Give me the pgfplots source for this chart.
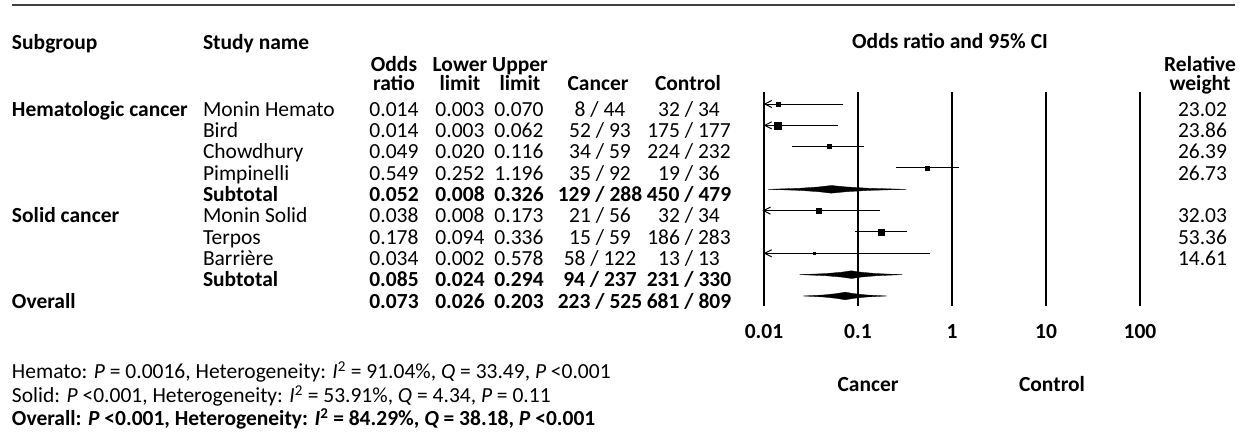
\documentclass[border=0pt]{standalone}
\usepackage{fontspec}
\setmainfont{Carlito}
\usepackage{pgfplots}
\pgfplotsset{compat=1.18}
\usetikzlibrary{arrows.meta}
% table row: font, row, name, OR, lower, upper, cancer, control, weight
\newcommand\trow[9]{%
  \pgfmathsetmacro\yb{109.5+(#2-1)*21.33+6.8}%
  \node[anchor=base west,font=#1] at (203,\yb) {#3};
  \node[anchor=base,font=#1] at (394,\yb) {#4};
  \node[anchor=base,font=#1] at (460,\yb) {#5};
  \node[anchor=base,font=#1] at (519,\yb) {#6};
  \node[anchor=base,font=#1] at (600,\yb) {#7};
  \node[anchor=base,font=#1] at (689,\yb) {#8};
  \node[anchor=base east,font=#1] at (1227,\yb) {#9};
}
\begin{document}
\fontsize{21.5}{24}\selectfont
\begin{tikzpicture}
\path[use as bounding box] (0pt,0pt) rectangle (1247pt,-439pt);
\begin{scope}[x=1pt,y=-1pt,every node/.style={inner sep=0pt,outer sep=0pt}]
  \draw[line width=1.8pt, black!75] (12,5) -- (1235,5);
  % headers
  \node[anchor=base west,font=\bfseries] at (12,49.8) {Subgroup};
  \node[anchor=base west,font=\bfseries] at (203,49.8) {Study name};
  \node[anchor=base,font=\bfseries] at (950,48.8) {Odds ratio and 95\% CI};
  \node[anchor=base,font=\bfseries] at (394,71) {Odds};
  \node[anchor=base,font=\bfseries] at (394,90) {ratio};
  \node[anchor=base,font=\bfseries] at (460,71) {Lower};
  \node[anchor=base,font=\bfseries] at (460,90) {limit};
  \node[anchor=base,font=\bfseries] at (520,71) {Upper};
  \node[anchor=base,font=\bfseries] at (520,90) {limit};
  \node[anchor=base,font=\bfseries] at (598,90) {Cancer};
  \node[anchor=base,font=\bfseries] at (688,90) {Control};
  \node[anchor=base,font=\bfseries] at (1200,71) {Relative};
  \node[anchor=base,font=\bfseries] at (1200,90) {weight};
  % subgroups
  \node[anchor=base west,font=\bfseries] at (12,116.3) {Hematologic cancer};
  \node[anchor=base west,font=\bfseries] at (12,222.9) {Solid cancer};
  \node[anchor=base west,font=\bfseries] at (12,308.3) {Overall};
  % rows
  \trow{}{1}{Monin Hemato}{0.014}{0.003}{0.070}{8 / 44}{32 / 34}{23.02}
  \trow{}{2}{Bird}{0.014}{0.003}{0.062}{52 / 93}{175 / 177}{23.86}
  \trow{}{3}{Chowdhury}{0.049}{0.020}{0.116}{34 / 59}{224 / 232}{26.39}
  \trow{}{4}{Pimpinelli}{0.549}{0.252}{1.196}{35 / 92}{19 / 36}{26.73}
  \trow{\bfseries}{5}{Subtotal}{0.052}{0.008}{0.326}{129 / 288}{450 / 479}{}
  \trow{}{6}{Monin Solid}{0.038}{0.008}{0.173}{21 / 56}{32 / 34}{32.03}
  \trow{}{7}{Terpos}{0.178}{0.094}{0.336}{15 / 59}{186 / 283}{53.36}
  \trow{}{8}{Barrière}{0.034}{0.002}{0.578}{58 / 122}{13 / 13}{14.61}
  \trow{\bfseries}{9}{Subtotal}{0.085}{0.024}{0.294}{94 / 237}{231 / 330}{}
  \trow{\bfseries}{10}{}{0.073}{0.026}{0.203}{223 / 525}{681 / 809}{}
  % bottom labels
  \node[anchor=base,font=\bfseries] at (868,391.8) {Cancer};
  \node[anchor=base,font=\bfseries] at (1052,391.8) {Control};
  % footnotes
  \node[anchor=base west] at (12,378.8) {Hemato: \textit{P} = 0.0016, Heterogeneity: \textit{I}\textsuperscript{2} = 91.04\%, \textit{Q} = 33.49, \textit{P} <0.001};
  \node[anchor=base west] at (12,402.8) {Solid: \textit{P} <0.001, Heterogeneity: \textit{I}\textsuperscript{2} = 53.91\%, \textit{Q} = 4.34, \textit{P} = 0.11};
  \node[anchor=base west,font=\bfseries] at (12,425.8) {Overall: \textit{P} <0.001, Heterogeneity: \textit{I}\textsuperscript{2} = 84.29\%, \textit{Q} = 38.18, \textit{P} <0.001};
\end{scope}
\begin{axis}[
  at={(764pt,-306pt)}, anchor=south west,
  scale only axis, width=376pt, height=214pt,
  xmode=log, xmin=0.01, xmax=100, ymin=-10.47, ymax=-0.4375,
  clip=false,
  axis line style={draw=none},
  xtick={0.01,0.1,1,10,100},
  xticklabels={0.01,0.1,1,10,100},
  ytick=\empty, xminorticks=false,
  major tick length=0pt,
  xmajorgrids,
  major grid style={black, line width=1.3pt},
  xticklabel style={font=\bfseries, anchor=center, yshift=-26pt},
]
% confidence intervals
\addplot[black, line width=1pt] coordinates {(0.020,-3) (0.116,-3)};
\addplot[black, line width=1pt] coordinates {(0.252,-4) (1.196,-4)};
\addplot[black, line width=1pt] coordinates {(0.094,-7) (0.336,-7)};
\addplot[black, line width=1pt, -{Straight Barb[length=7pt,width=7pt]}] coordinates {(0.070,-1) (0.0099,-1)};
\addplot[black, line width=1pt, -{Straight Barb[length=7pt,width=7pt]}] coordinates {(0.062,-2) (0.0099,-2)};
\addplot[black, line width=1pt, -{Straight Barb[length=7pt,width=7pt]}] coordinates {(0.173,-6) (0.0096,-6)};
\addplot[black, line width=1pt, -{Straight Barb[length=7pt,width=7pt]}] coordinates {(0.578,-8) (0.0099,-8)};
% point estimates
\addplot[only marks, mark=square*, mark size=2pt, black] coordinates {(0.014,-1) (0.049,-3) (0.549,-4)};
\addplot[only marks, mark=square*, mark size=3.5pt, black] coordinates {(0.014,-2)};
\addplot[only marks, mark=square*, mark size=3pt, black] coordinates {(0.178,-7)};
\addplot[only marks, mark=square*, mark size=2.3pt, black] coordinates {(0.038,-6)};
\addplot[only marks, mark=square*, mark size=1pt, black] coordinates {(0.034,-8)};
% pooled diamonds
\addplot[fill=black, draw=black, line width=0.3pt] coordinates {(0.01104,-5) (0.02395,-4.95) (0.03815,-4.888) (0.052,-4.82) (0.0751,-4.888) (0.1302,-4.95) (0.326,-5) (0.1302,-5.05) (0.0751,-5.112) (0.052,-5.18) (0.03815,-5.112) (0.02395,-5.05)} --cycle;
\addplot[fill=black, draw=black, line width=0.3pt] coordinates {(0.024,-9) (0.04517,-8.95) (0.06599,-8.888) (0.085,-8.82) (0.1089,-8.888) (0.1580,-8.95) (0.294,-9) (0.1580,-9.05) (0.1089,-9.112) (0.085,-9.18) (0.06599,-9.112) (0.04517,-9.05)} --cycle;
\addplot[fill=black, draw=black, line width=0.3pt] coordinates {(0.026,-10) (0.04356,-9.95) (0.05937,-9.888) (0.073,-9.82) (0.08956,-9.888) (0.1217,-9.95) (0.203,-10) (0.1217,-10.05) (0.08956,-10.112) (0.073,-10.18) (0.05937,-10.112) (0.04356,-10.05)} --cycle;
\end{axis}
\end{tikzpicture}
\end{document}
